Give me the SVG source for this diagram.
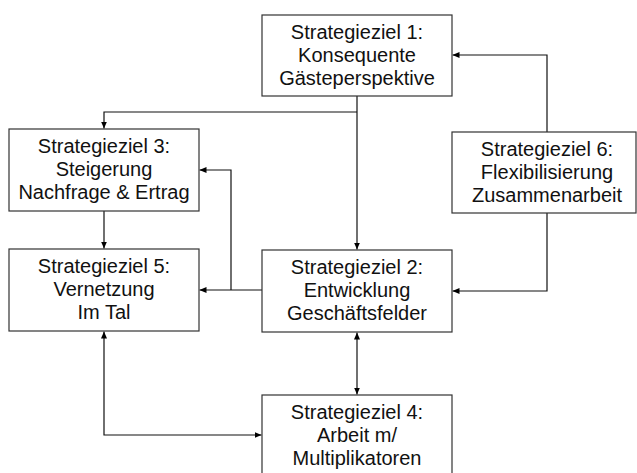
<svg xmlns="http://www.w3.org/2000/svg" width="637" height="473" viewBox="0 0 637 473">
<defs>
<marker id="arr" viewBox="0 0 7 6" refX="7" refY="3" markerWidth="7" markerHeight="6" markerUnits="userSpaceOnUse" orient="auto-start-reverse">
<path d="M0,0 L7,3 L0,6 z" fill="#000"/>
</marker>
<style>
.box{fill:#fff;stroke:#333;stroke-width:1.2}
.t{font-family:"Liberation Sans",Arial,sans-serif;font-size:20px;fill:#111;text-anchor:middle}
.c{fill:none;stroke:#111;stroke-width:1.2}
</style>
</defs>
<rect width="637" height="473" fill="#fff"/>
<g id="connectors">
<path class="c" d="M357 96 V249.5" marker-end="url(#arr)"/>
<path class="c" d="M357 112 H104 V128.5" marker-end="url(#arr)"/>
<path class="c" d="M104 211 V248.5" marker-end="url(#arr)"/>
<path class="c" d="M262 290 H199.5" marker-end="url(#arr)"/>
<path class="c" d="M231 290 V170 H199.5" marker-end="url(#arr)"/>
<path class="c" d="M547 132 V55 H452.5" marker-end="url(#arr)"/>
<path class="c" d="M547 213 V291 H452.5" marker-end="url(#arr)"/>
<path class="c" d="M357 332.5 V394.5" marker-start="url(#arr)" marker-end="url(#arr)"/>
<path class="c" d="M104 331.5 V435 H261.5" marker-start="url(#arr)" marker-end="url(#arr)"/>
</g>
<g id="node1">
<rect class="box" x="262" y="15" width="190" height="81"/>
<text class="t" x="357" y="39">Strategieziel 1:</text>
<text class="t" x="357" y="62">Konsequente</text>
<text class="t" x="357" y="85">Gästeperspektive</text>
</g>
<g id="node3">
<rect class="box" x="9" y="129" width="190" height="82"/>
<text class="t" x="104" y="153">Strategieziel 3:</text>
<text class="t" x="104" y="176">Steigerung</text>
<text class="t" x="104" y="199">Nachfrage &amp; Ertrag</text>
</g>
<g id="node5">
<rect class="box" x="9" y="249" width="190" height="82"/>
<text class="t" x="104" y="273">Strategieziel 5:</text>
<text class="t" x="104" y="296">Vernetzung</text>
<text class="t" x="104" y="319">Im Tal</text>
</g>
<g id="node2">
<rect class="box" x="262" y="250" width="190" height="82"/>
<text class="t" x="357" y="274">Strategieziel 2:</text>
<text class="t" x="357" y="297">Entwicklung</text>
<text class="t" x="357" y="320">Geschäftsfelder</text>
</g>
<g id="node6">
<rect class="box" x="452" y="132" width="184" height="81"/>
<text class="t" x="547" y="156">Strategieziel 6:</text>
<text class="t" x="547" y="179">Flexibilisierung</text>
<text class="t" x="547" y="202">Zusammenarbeit</text>
</g>
<g id="node4">
<rect class="box" x="262" y="395" width="190" height="82"/>
<text class="t" x="357" y="419">Strategieziel 4:</text>
<text class="t" x="357" y="442">Arbeit m/</text>
<text class="t" x="357" y="465">Multiplikatoren</text>
</g>
</svg>
